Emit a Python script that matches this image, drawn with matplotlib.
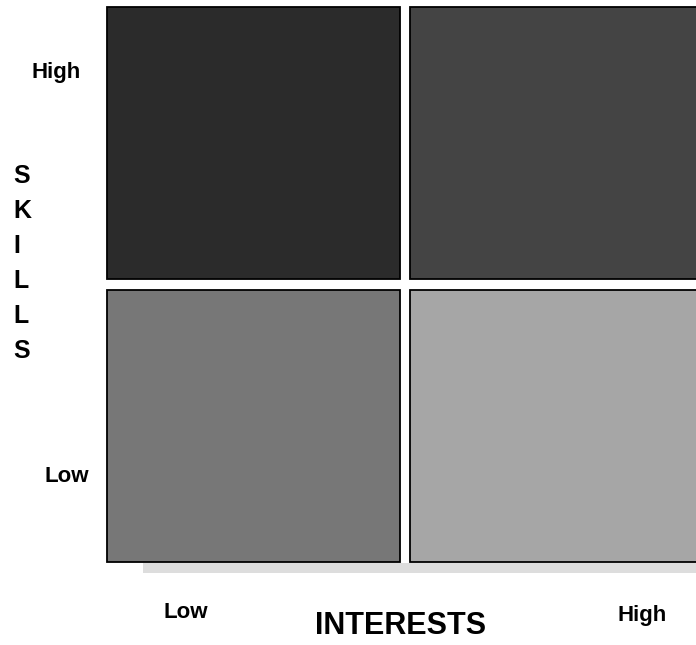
import matplotlib
matplotlib.use("Agg")
import matplotlib.pyplot as plt
from matplotlib.patches import Rectangle

plt.rcParams['font.family'] = ['Liberation Sans', 'DejaVu Sans']

# grid cells: (row, col) -> fill colour, row 0 = top (high skills)
cell_rows = [0, 0, 1, 1]
cell_cols = [0, 1, 0, 1]
cell_colors = ['#2b2b2b', '#444444', '#777777', '#a6a6a6']

y_label_text = "SKILLS"
y_tick_labels = ["High", "Low"]
x_tick_labels = ["Low", "High"]
x_label_text = "INTERESTS"

W, H = 696, 645
fig = plt.figure(figsize=(W / 100, H / 100), dpi=100)
ax = fig.add_axes([0, 0, 1, 1])
ax.set_xlim(0, W)
ax.set_ylim(H, 0)
ax.axis('off')

# layout in pixels
x0, y0 = 107, 7
cw, ch = 293, 272
gap_x, gap_y = 10, 11

# shadow strip under the grid
ax.add_patch(Rectangle((143, 563), W - 143, 10, facecolor='#dddddd',
                       edgecolor='none', zorder=0))

for r, c, col in zip(cell_rows, cell_cols, cell_colors):
    x = x0 + c * (cw + gap_x)
    y = y0 + r * (ch + gap_y)
    ax.add_patch(Rectangle((x, y), cw, ch, facecolor=col,
                           edgecolor='black', linewidth=1.3, zorder=2))

lab = dict(fontsize=16, fontweight='bold')

# y tick labels
ax.text(56, 78, y_tick_labels[0], ha='center', va='baseline', **lab)
ax.text(67, 482, y_tick_labels[1], ha='center', va='baseline', **lab)

# vertical SKILLS
for i, ch_ in enumerate(y_label_text):
    ax.text(13, 183 + i * 35, ch_, ha='left', va='baseline',
            fontsize=18, fontweight='bold')

# x tick labels
ax.text(186, 618, x_tick_labels[0], ha='center', va='baseline', **lab)
ax.text(642, 621, x_tick_labels[1], ha='center', va='baseline', **lab)

ax.text(401, 634, x_label_text, ha='center', va='baseline',
        fontsize=22, fontweight='bold')

fig.savefig("out.png", dpi=100)
